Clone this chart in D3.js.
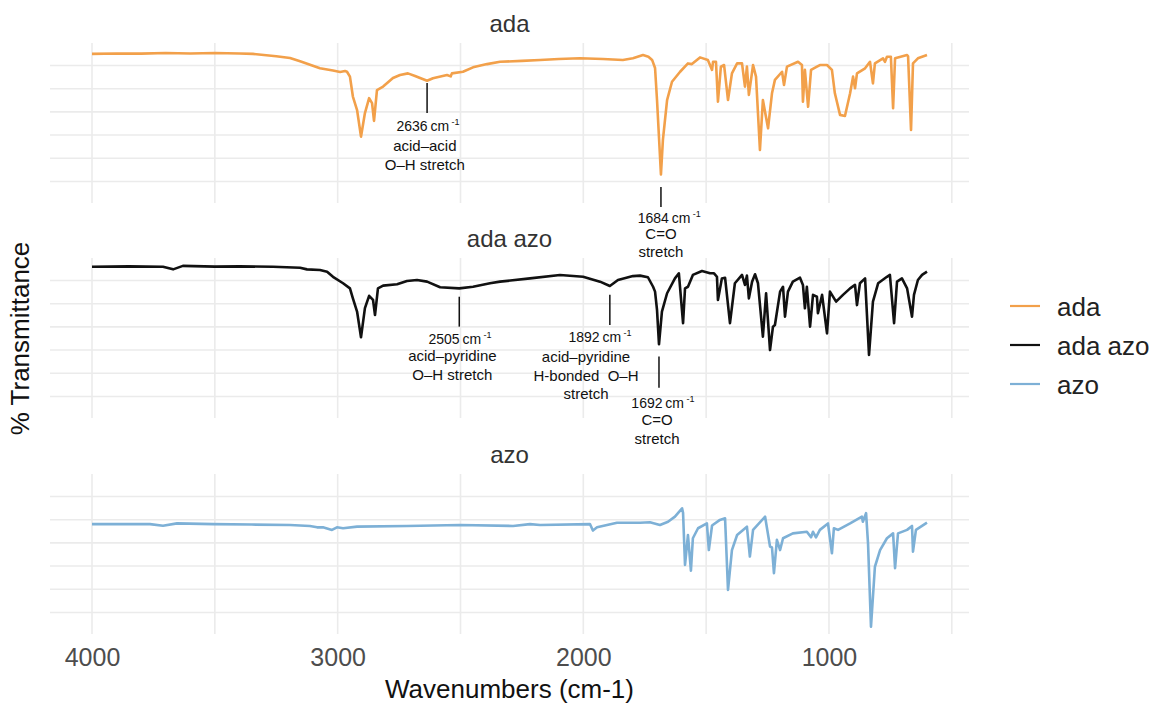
<!DOCTYPE html>
<html>
<head>
<meta charset="utf-8">
<script src="https://cdn.jsdelivr.net/npm/d3@7"></script>
<style>
  body { margin: 0; background: #fff; }
  text { font-family: "Liberation Sans", Arial, sans-serif; }
</style>
</head>
<body>
<div class="chart"></div>
<script>
// Data: [wavenumber (cm-1), % transmittance]
var adaSpectrum = [[4000,105.0],[3900,105.2],[3800,105.1],[3700,105.4],[3600,105.2],[3500,105.4],[3400,105.2],[3345,105.0],[3250,104.0],[3194,103.2],[3153,101.8],[3072,98.8],[3019,97.8],[2990,97.2],[2970,97.6],[2962,97.3],[2950,95.2],[2938,86.6],[2921,80.8],[2905,69.3],[2889,79.5],[2872,85.9],[2860,83.8],[2852,76.1],[2840,89.4],[2815,90.9],[2775,94.6],[2746,95.9],[2714,96.6],[2685,95.5],[2636,93.4],[2612,94.5],[2555,95.9],[2540,95.3],[2535,96.6],[2490,97.3],[2449,99.2],[2392,100.6],[2339,101.6],[2250,102.0],[2176,102.4],[2100,102.8],[2014,103.1],[1920,102.8],[1839,102.4],[1798,103.1],[1757,104.5],[1735,103.8],[1720,102.4],[1708,98.9],[1700,85.1],[1684,53.0],[1676,67.9],[1659,85.1],[1639,93.0],[1606,97.3],[1574,100.9],[1558,100.6],[1525,103.5],[1493,102.4],[1476,98.1],[1472,101.6],[1460,101.6],[1452,84.4],[1440,99.5],[1427,100.2],[1411,85.1],[1395,96.6],[1374,100.9],[1354,100.9],[1342,90.9],[1334,99.5],[1326,87.3],[1309,100.2],[1297,95.2],[1281,63.6],[1269,85.1],[1248,72.9],[1232,88.0],[1220,93.8],[1191,97.3],[1183,91.6],[1171,99.5],[1126,101.6],[1110,100.2],[1106,84.4],[1098,98.1],[1085,82.2],[1073,98.1],[1049,99.5],[1037,100.2],[1008,100.2],[988,98.1],[976,88.0],[955,78.7],[935,78.2],[914,88.0],[902,95.2],[894,90.2],[886,96.6],[853,98.8],[833,101.6],[821,92.3],[813,100.9],[780,103.1],[772,101.6],[764,103.8],[748,103.8],[739,81.6],[731,103.1],[682,104.5],[678,104.0],[666,72.2],[658,100.9],[638,103.1],[601,104.5]];

var adaAzoSpectrum = [[4000,105.9],[3850,106.1],[3711,105.9],[3670,104.8],[3630,106.3],[3500,106.0],[3400,106.1],[3263,105.9],[3153,105.5],[3125,104.8],[3072,104.5],[3043,103.8],[3019,101.6],[2978,98.8],[2950,96.6],[2938,92.3],[2921,86.6],[2905,75.5],[2889,88.1],[2872,93.4],[2856,91.6],[2848,85.1],[2836,96.6],[2815,97.8],[2758,98.4],[2718,99.8],[2677,100.2],[2636,99.5],[2583,97.1],[2505,96.6],[2449,97.3],[2380,98.8],[2339,99.5],[2217,100.9],[2095,102.4],[2001,101.6],[1932,99.5],[1892,97.6],[1859,100.2],[1798,101.9],[1769,102.1],[1737,101.4],[1716,97.3],[1708,95.2],[1700,87.3],[1692,72.5],[1680,86.6],[1659,94.5],[1627,100.9],[1611,103.1],[1594,81.6],[1586,96.6],[1574,97.3],[1554,102.4],[1517,104.1],[1484,103.1],[1468,103.1],[1456,101.6],[1452,91.6],[1436,100.9],[1423,101.2],[1403,81.6],[1383,98.8],[1354,102.4],[1342,98.1],[1334,102.1],[1326,92.3],[1313,99.5],[1301,102.7],[1289,98.8],[1269,75.8],[1256,94.5],[1240,70.0],[1228,80.1],[1220,80.8],[1199,95.2],[1187,97.3],[1179,84.4],[1167,95.2],[1147,99.5],[1118,101.2],[1106,98.1],[1098,88.0],[1090,97.3],[1077,80.1],[1065,93.8],[1049,93.0],[1045,85.9],[1028,93.8],[1008,77.2],[996,95.2],[971,90.9],[943,93.8],[914,96.6],[894,98.1],[886,89.4],[874,98.8],[853,100.9],[837,67.9],[821,90.9],[800,98.8],[764,101.6],[752,102.4],[735,81.6],[723,99.5],[703,100.9],[682,96.6],[662,84.4],[654,93.8],[638,100.2],[621,102.4],[601,103.8]];

var azoSpectrum = [[4000,88.1],[3764,88.1],[3711,87.4],[3654,88.4],[3507,88.1],[3350,87.9],[3194,87.7],[3113,87.3],[3084,86.7],[3060,86.7],[3023,85.6],[3003,86.7],[2978,86.3],[2921,87.0],[2718,87.3],[2502,87.7],[2286,87.3],[2217,88.1],[2176,87.7],[1973,88.1],[1961,85.3],[1944,86.7],[1863,88.7],[1769,88.7],[1729,88.9],[1688,87.7],[1655,89.1],[1627,91.3],[1598,94.9],[1594,93.0],[1586,70.5],[1574,83.4],[1562,68.0],[1554,82.0],[1533,86.3],[1497,88.4],[1489,76.9],[1476,87.5],[1444,89.9],[1423,90.6],[1411,59.7],[1395,76.9],[1374,83.4],[1334,87.0],[1322,74.1],[1309,85.6],[1260,91.3],[1240,78.4],[1232,78.0],[1224,66.9],[1212,81.3],[1199,76.9],[1187,82.0],[1147,84.1],[1090,84.8],[1073,82.4],[1065,84.8],[1053,82.4],[1037,85.6],[1004,88.4],[988,75.5],[980,86.3],[963,85.6],[914,88.4],[866,91.3],[862,89.1],[849,92.8],[841,79.8],[829,43.9],[813,69.7],[792,76.9],[764,82.0],[739,84.1],[731,69.1],[719,84.1],[682,85.6],[662,87.3],[658,76.2],[646,85.6],[601,88.7]];

var panelNames = ["ada", "ada azo", "azo"];
var seriesColors = ["#F2A04A", "#111111", "#7DB0D6"];
var spectra = [adaSpectrum, adaAzoSpectrum, azoSpectrum];

var xTickValues = [4000, 3000, 2000, 1000];
var xGridValues = [4000, 3500, 3000, 2500, 2000, 1500, 1000, 500];
var yGridValues = [50, 60, 70, 80, 90, 100];

// peak annotations, positions in data units
var annotations = [
  { panel: 0, peak: 2636, segTop: 92.5, segBottom: 79.5, labelX: 2632, labelY: 73.9, label: "2636", descX: 2645, descY: 65.3, desc: ["acid\u2013acid", "O\u2013H stretch"] },
  { panel: 0, peak: 1684, segTop: 47.6, segBottom: 39.0, labelX: 1650, labelY: 34.0, label: "1684", descX: 1684, descY: 27.6, desc: ["C=O", "stretch"] },
  { panel: 1, peak: 2505, segTop: 93.0, segBottom: 80.1, labelX: 2502, labelY: 74.8, label: "2505", descX: 2533, descY: 67.5, desc: ["acid\u2013pyridine", "O\u2013H stretch"] },
  { panel: 1, peak: 1892, segTop: 93.8, segBottom: 80.8, labelX: 1932, labelY: 75.6, label: "1892", descX: 1989, descY: 67.0, desc: ["acid\u2013pyridine", "H-bonded  O\u2013H", "stretch"] },
  { panel: 1, peak: 1692, segTop: 67.2, segBottom: 53.7, labelX: 1676, labelY: 47.2, label: "1692", descX: 1700, descY: 39.9, desc: ["C=O", "stretch"] }
];

var svgWidth = 1155;
var svgHeight = 704;

var panelLeft = 50;
var panelRight = 969;
var panelHeight = 160;
var panelTops = [43, 258, 474];

var svg = d3.select(".chart")
  .append("svg")
  .attr("width", svgWidth)
  .attr("height", svgHeight);

// Scales (x reversed like an IR spectrum)
var xScale = d3.scaleLinear()
  .domain([4171, 430])
  .range([panelLeft, panelRight]);

var yScale = d3.scaleLinear()
  .domain([40.7, 109.7])
  .range([panelHeight, 0]);

var line = d3.line()
  .x(d => xScale(d[0]))
  .y(d => yScale(d[1]));

var panels = svg.selectAll("g.panel")
  .data(panelNames)
  .enter()
  .append("g")
  .attr("class", "panel")
  .attr("transform", (d, i) => `translate(0, ${panelTops[i]})`);

// Grid
panels.each(function() {
  var g = d3.select(this);
  g.selectAll("line.hgrid")
    .data(yGridValues)
    .enter()
    .append("line")
    .attr("class", "hgrid")
    .attr("x1", panelLeft)
    .attr("x2", panelRight)
    .attr("y1", d => yScale(d))
    .attr("y2", d => yScale(d))
    .attr("stroke", "#EBEBEB")
    .attr("stroke-width", 1.6);

  g.selectAll("line.vgrid")
    .data(xGridValues)
    .enter()
    .append("line")
    .attr("class", "vgrid")
    .attr("x1", d => xScale(d))
    .attr("x2", d => xScale(d))
    .attr("y1", 0)
    .attr("y2", panelHeight)
    .attr("stroke", "#EBEBEB")
    .attr("stroke-width", 1.6);
});

// Strip titles
panels.append("text")
  .attr("x", (panelLeft + panelRight) / 2)
  .attr("y", -11)
  .attr("text-anchor", "middle")
  .attr("font-size", "24px")
  .attr("fill", "#333333")
  .text(d => d);

// Spectra
panels.append("path")
  .datum((d, i) => spectra[i])
  .attr("d", line)
  .attr("fill", "none")
  .attr("stroke", (d, i) => seriesColors[i])
  .attr("stroke-width", 2.6)
  .attr("stroke-linejoin", "round");

// Annotations
annotations.forEach(function(a) {
  var g = svg.append("g")
    .attr("transform", `translate(0, ${panelTops[a.panel]})`);

  g.append("line")
    .attr("x1", xScale(a.peak))
    .attr("x2", xScale(a.peak))
    .attr("y1", yScale(a.segTop))
    .attr("y2", yScale(a.segBottom))
    .attr("stroke", "#111")
    .attr("stroke-width", 1.5);

  var lab = g.append("text")
    .attr("x", xScale(a.labelX))
    .attr("y", yScale(a.labelY))
    .attr("text-anchor", "middle")
    .attr("font-size", "14px")
    .attr("fill", "#111");
  lab.append("tspan")
    .attr("dy", "0.35em")
    .text(a.label + "\u2009cm");
  lab.append("tspan")
    .attr("dy", "-6")
    .attr("font-size", "9px")
    .text(" -1");

  g.append("text")
    .attr("x", xScale(a.descX))
    .attr("y", yScale(a.descY))
    .attr("text-anchor", "middle")
    .attr("font-size", "15px")
    .attr("fill", "#111")
    .style("white-space", "pre")
    .selectAll("tspan")
    .data(a.desc)
    .enter()
    .append("tspan")
    .attr("x", xScale(a.descX))
    .attr("dy", (d, i) => i === 0 ? "0.35em" : "18.5")
    .text(d => d);
});

// Bottom axis labels
var xAxis = d3.axisBottom(xScale)
  .tickValues(xTickValues)
  .tickFormat(d3.format("d"))
  .tickSize(0)
  .tickPadding(14);

var axisG = svg.append("g")
  .attr("transform", `translate(0, ${panelTops[2] + panelHeight})`)
  .call(xAxis);
axisG.select(".domain").remove();
axisG.selectAll("text")
  .attr("font-size", "25px")
  .attr("font-family", "Liberation Sans, Arial, sans-serif")
  .attr("fill", "#4D4D4D");

// Axis titles
svg.append("text")
  .attr("x", (panelLeft + panelRight) / 2)
  .attr("y", 698)
  .attr("text-anchor", "middle")
  .attr("font-size", "26px")
  .attr("fill", "#111")
  .text("Wavenumbers (cm-1)");

svg.append("text")
  .attr("transform", `translate(20, ${(panelTops[0] + panelTops[2] + panelHeight) / 2}) rotate(-90)`)
  .attr("dy", "0.35em")
  .attr("text-anchor", "middle")
  .attr("font-size", "26px")
  .attr("fill", "#111")
  .text("% Transmittance");

// Legend
var legend = svg.append("g")
  .attr("transform", "translate(1010, 306)");

var items = legend.selectAll("g")
  .data(panelNames)
  .enter()
  .append("g")
  .attr("transform", (d, i) => `translate(0, ${i * 39})`);

items.append("line")
  .attr("x1", 0)
  .attr("x2", 30)
  .attr("stroke", (d, i) => seriesColors[i])
  .attr("stroke-width", 2.2);

items.append("text")
  .attr("x", 47)
  .attr("y", 9.5)
  .attr("font-size", "26px")
  .attr("fill", "#222")
  .text(d => d);
</script>
</body>
</html>
